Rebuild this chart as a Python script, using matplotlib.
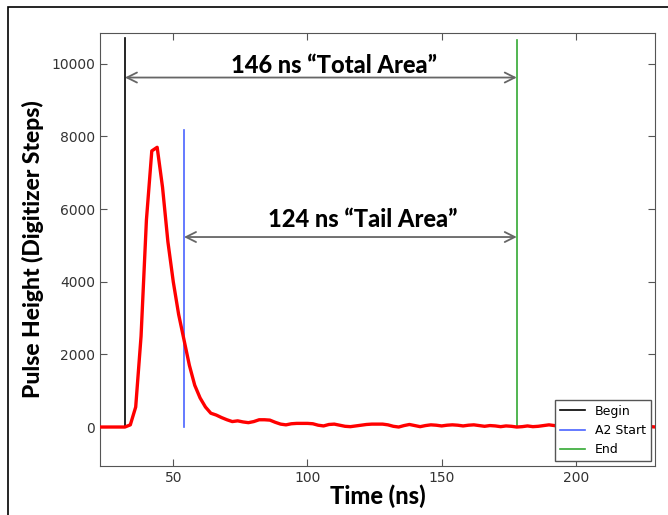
import numpy as np
import matplotlib
matplotlib.use('Agg')
import matplotlib.pyplot as plt
from matplotlib.patches import Rectangle

# digitizer trace, one sample every 2 ns
time_ns = np.arange(22, 232, 2)
pulse = [0, 0, 0, 0, 0, 0, 60, 550, 2500, 5700,
         7600, 7700, 6600, 5100, 4000, 3100, 2400, 1700, 1150, 800,
         550, 380, 330, 260, 200, 150, 170, 140, 120, 150,
         200, 200, 190, 130, 80, 60, 90, 100, 100, 100,
         90, 50, 30, 70, 80, 50, 20, 10, 30, 50,
         70, 80, 80, 80, 60, 20, 0, 40, 70, 40,
         10, 40, 60, 50, 30, 50, 60, 50, 30, 50,
         60, 40, 20, 40, 30, 10, 30, 20, 0, 10,
         30, 10, 20, 40, 60, 40, 20, 30, 10, 0,
         20, 40, 20, 10, 30, 40, 20, 10, 30, 20,
         10, 20, 30, 10, 0]

# integration window markers
marker_names = ['Begin', 'A2 Start', 'End']
marker_times = [32, 54, 178]
marker_tops = [10700, 8180, 10650]
marker_colors = ['black', '#4a63ff', '#33a933']

total_label = u'146 ns \u201cTotal Area\u201d'
tail_label = u'124 ns \u201cTail Area\u201d'

fig = plt.figure(figsize=(6.68, 5.15), dpi=100)
fig.patches.append(Rectangle((8/668., -0.02), 1.05, 1 - 7/515. + 0.02,
                             transform=fig.transFigure, fill=False,
                             edgecolor='black', linewidth=1.2))

ax = fig.add_axes([0.1497, 0.0957, 0.8308, 0.8396])
ax.plot(time_ns, pulse, color='red', linewidth=2.4, zorder=3)

for name, t, top, c in zip(marker_names, marker_times, marker_tops, marker_colors):
    ax.plot([t, t], [0, top], color=c, linewidth=1.2, label=name, zorder=2)

arrow = dict(arrowstyle='<->', color='#666666', linewidth=1.3,
             shrinkA=0, shrinkB=0, mutation_scale=18)
ax.annotate('', xy=(marker_times[0], 9620), xytext=(marker_times[2], 9620),
            arrowprops=arrow)
ax.annotate('', xy=(marker_times[1], 5230), xytext=(marker_times[2], 5230),
            arrowprops=arrow)
ax.text(109.8, 9744, total_label, ha='center', va='baseline',
        fontsize=17, fontweight=900, family='Lato')
ax.text(120.7, 5513, tail_label, ha='center', va='baseline',
        fontsize=17, fontweight=900, family='Lato')

ax.set_xlim(22.7, 229.5)
ax.set_ylim(-1065, 10837)
ax.set_xticks([50, 100, 150, 200])
ax.set_yticks([0, 2000, 4000, 6000, 8000, 10000])
ax.tick_params(direction='in', top=True, right=True, length=5,
               color='#555555', labelcolor='#333333', labelsize=10)
for s in ax.spines.values():
    s.set_color('#555555')

ax.set_xlabel('Time (ns)', fontsize=17, fontweight=900, family='Lato',
              labelpad=0)
ax.set_ylabel('Pulse Height (Digitizer Steps)', fontsize=16.5,
              fontweight=900, family='Lato', labelpad=5)

leg = ax.legend(loc='lower right', fontsize=9, fancybox=False,
                framealpha=1, handlelength=2.0, borderaxespad=0.35)
leg.get_frame().set_edgecolor('#555555')

fig.savefig('out.png', dpi=100)
